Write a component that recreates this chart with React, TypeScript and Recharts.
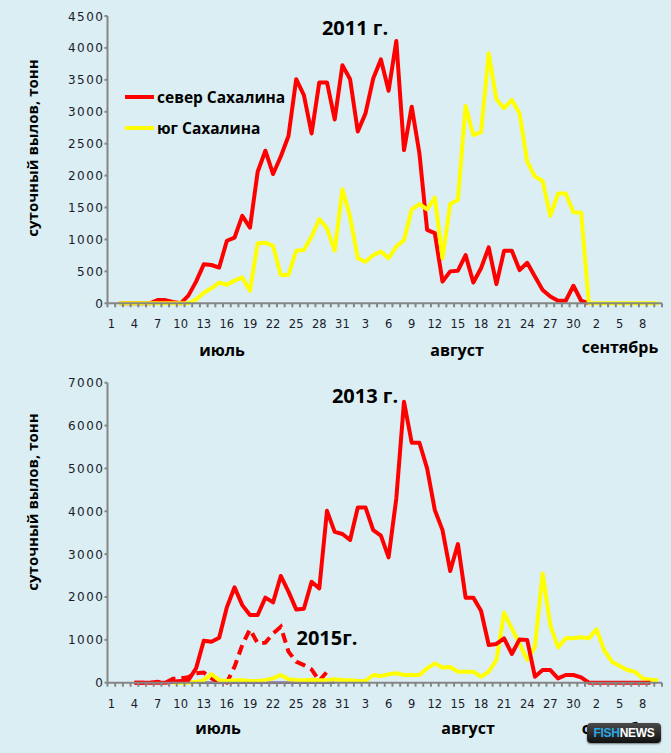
import { Line, LineChart, XAxis, YAxis } from 'recharts'

const BG = '#DAEEF3'
const RED = '#FF0000'
const YELLOW = '#FFFF00'
const PURPLE = '#7030A0'
const AXIS_GRAY = '#868686'
const TEXT_DARK = '#1b1b2b'
const BOLD_FONT = '"Open Sans", "Noto Sans", sans-serif'
const TICK_FONT = '"DejaVu Sans", sans-serif'

const CHART_W = 671
const PLOT_LEFT = 107.5
const PLOT_RIGHT = 662

// day-of-month labels: July 1..31, August 1..31, September 1..10
const DAY_LABELS = [
    1, 2, 3, 4, 5, 6, 7, 8, 9, 10, 11, 12, 13, 14, 15, 16, 17, 18, 19, 20, 21, 22, 23, 24, 25, 26, 27, 28, 29, 30, 31,
    1, 2, 3, 4, 5, 6, 7, 8, 9, 10, 11, 12, 13, 14, 15, 16, 17, 18, 19, 20, 21, 22, 23, 24, 25, 26, 27, 28, 29, 30, 31,
    1, 2, 3, 4, 5, 6, 7, 8, 9, 10
]

const TICKS_2011 = [0, 500, 1000, 1500, 2000, 2500, 3000, 3500, 4000, 4500]
const TICKS_2013 = [0, 1000, 2000, 3000, 4000, 5000, 6000, 7000]

// 2011, north Sakhalin (tonnes per day)
const NORTH_2011 = [
    null, 0, 0, 0, 0, 0, 50, 50, 20, 0, 120, 340, 610, 600, 560, 980, 1030, 1370, 1185, 2060, 2390, 2025, 2300, 2620,
    3510, 3260, 2660, 3460, 3460, 2880, 3730,
    3510, 2690, 2975, 3520, 3820, 3330, 4110, 2400, 3080, 2350, 1150, 1100, 340, 500, 510, 755, 325, 550, 875, 300,
    825, 825, 520, 635, 420, 210, 105, 40, 40, 275, 40,
    0, null, null, null, null, null, null, null, null, null
]

// 2011, south Sakhalin
const SOUTH_2011 = [
    null, 0, 0, 0, 0, 0, 0, 0, 0, 0, 0, 60, 165, 235, 325, 290, 355, 405, 195, 940, 950, 900, 445, 445, 825, 835, 1045,
    1320, 1175, 825, 1785,
    1355, 705, 650, 755, 810, 705, 890, 990, 1470, 1555, 1470, 1655, 705, 1555, 1620, 3090, 2635, 2680, 3915, 3195,
    3055, 3185, 2975, 2220, 1985, 1915, 1370, 1720, 1720, 1425, 1420,
    0, 0, 0, 0, 0, 0, 0, 0, 0, 0
]

// 2013, north Sakhalin
const NORTH_2013 = [
    null, null, null, 0, 0, 0, 0, 0, 20, 40, 60, 335, 980, 955, 1050, 1760, 2225, 1810, 1580, 1580, 1985, 1875, 2490,
    2125, 1710, 1725, 2355, 2200, 4010, 3520, 3470,
    3330, 4090, 4090, 3560, 3430, 2925, 4300, 6555, 5600, 5600, 5000, 4030, 3560, 2605, 3235, 1985, 1985, 1680, 880,
    905, 1035, 670, 1010, 995, 140, 295, 295, 100, 180, 180,
    125, 0, 0, 0, 0, 0, 0, 0, 0, 0
]

// 2013, south Sakhalin
const SOUTH_2013 = [
    null, null, null, null, null, null, null, null, 0, 0, 0, 20, 60, 200, 60, 40, 60, 60, 40, 40, 60, 100, 180, 80, 60,
    60, 70, 60, 60, 80, 60,
    60, 40, 40, 180, 155, 195, 220, 180, 180, 180, 335, 450, 355, 365, 255, 255, 255, 140, 255, 530, 1630, 1265, 910,
    530, 840, 2550, 1345, 825, 1035, 1035,
    1060, 1035, 1245, 755, 490, 390, 295, 255, 100, 70, 50
]

// 2015, north Sakhalin (dashed)
const NORTH_2015 = [
    null, null, null, 0, 0, 0, 20, 0, 90, 100, 130, 220, 235, 100, 10, 0, 375, 880, 1245, 920, 935, 1150, 1305, 725,
    490, 410, 310, 45, 255, null, null,
    null, null, null, null, null, null, null, null, null, null, null, null, null, null, null, null, null, null, null,
    null, null, null, null, null, null, null, null, null, null, null,
    null, null, null, null, null, null, null, null, null, null
]

// 2015, south Sakhalin (lies on the zero line)
const SOUTH_2015 = [
    null, null, null, 0, 0, 0, 0, 0, 0, 0, 0, 0, 0, 0, 0, 0, 0, 0, 0, 0, 0, 0, 0, 0, 0, 0, 0, 0, 0, 0, null,
    null, null, null, null, null, null, null, null, null, null, null, null, null, null, null, null, null, null, null,
    null, null, null, null, null, null, null, null, null, null, null,
    null, null, null, null, null, null, null, null, null, null
]

const rows2011 = DAY_LABELS.map((day, i) => ({ idx: i, day, north: NORTH_2011[i], south: SOUTH_2011[i] }))
const rows2013 = DAY_LABELS.map((day, i) => ({
    idx: i,
    day,
    north: NORTH_2013[i],
    south: SOUTH_2013[i],
    north2015: NORTH_2015[i],
    south2015: SOUTH_2015[i]
}))

const BAND = (PLOT_RIGHT - PLOT_LEFT) / DAY_LABELS.length

function DayTick(props: any) {
    const { x, y, index } = props
    const last = index === DAY_LABELS.length - 1
    return (
        <g>
            <line x1={x - BAND / 2} x2={x - BAND / 2} y1={y} y2={y + 4} stroke={AXIS_GRAY} strokeWidth={2} />
            {last ? <line x1={x + BAND / 2} x2={x + BAND / 2} y1={y} y2={y + 4} stroke={AXIS_GRAY} strokeWidth={2} /> : null}
            {index % 3 === 0 ? (
                <text x={x} y={y + 25} textAnchor="middle" fontFamily={TICK_FONT} fontSize={11.5} fill={TEXT_DARK}>
                    {DAY_LABELS[index]}
                </text>
            ) : null}
        </g>
    )
}

function ValueTick(props: any) {
    const { x, y, payload } = props
    return (
        <text x={x} y={y + 4.5} textAnchor="end" fontFamily={TICK_FONT} fontSize={12} letterSpacing={1.5} fill={TEXT_DARK}>
            {payload.value}
        </text>
    )
}

function Label({ x, y, size, children }: { x: number; y: number; size: number; children: any }) {
    return (
        <div
            style={{
                position: 'absolute',
                left: x,
                top: y,
                transform: 'translate(-50%, -50%)',
                whiteSpace: 'nowrap',
                fontFamily: BOLD_FONT,
                fontWeight: 700,
                fontSize: size,
                color: '#000'
            }}
        >
            {children}
        </div>
    )
}

function AxisTitle({ x, y }: { x: number; y: number }) {
    return (
        <div
            style={{
                position: 'absolute',
                left: x,
                top: y,
                transform: 'translate(-50%, -50%) rotate(-90deg)',
                whiteSpace: 'nowrap',
                fontFamily: BOLD_FONT,
                fontWeight: 700,
                fontSize: 15,
                color: '#000'
            }}
        >
            суточный вылов, тонн
        </div>
    )
}

function LegendRow({ top, color, text }: { top: number; color: string; text: string }) {
    return (
        <div style={{ position: 'absolute', left: 125, top, display: 'flex', alignItems: 'center' }}>
            <div style={{ width: 29, height: 4, background: color }} />
            <span style={{ marginLeft: 3, fontFamily: BOLD_FONT, fontWeight: 700, fontSize: 15.5, color: '#000' }}>{text}</span>
        </div>
    )
}

export default function App() {
    return (
        <div style={{ position: 'absolute', left: 0, top: 0, width: 671, height: 753, background: BG, overflow: 'hidden' }}>
            <div style={{ position: 'absolute', left: 0, top: 0 }}>
                <LineChart width={CHART_W} height={370} data={rows2011} margin={{ top: 16, right: CHART_W - PLOT_RIGHT, bottom: 0, left: 0 }}>
                    <XAxis
                        dataKey="idx"
                        type="category"
                        interval={0}
                        height={66.7}
                        padding={{ left: BAND / 2, right: BAND / 2 }}
                        tickSize={0}
                        tickMargin={0}
                        tick={DayTick}
                        tickLine={false}
                        axisLine={{ stroke: AXIS_GRAY, strokeWidth: 2 }}
                    />
                    <YAxis
                        width={PLOT_LEFT}
                        domain={[0, 4500]}
                        ticks={TICKS_2011}
                        interval={0}
                        tickSize={3}
                        tickMargin={0}
                        tick={ValueTick}
                        tickLine={{ stroke: AXIS_GRAY, strokeWidth: 2 }}
                        axisLine={{ stroke: AXIS_GRAY, strokeWidth: 2 }}
                    />
                    <Line dataKey="north" type="linear" stroke={RED} strokeWidth={4} dot={false} isAnimationActive={false} strokeLinejoin="round" />
                    <Line dataKey="south" type="linear" stroke={YELLOW} strokeWidth={4} dot={false} isAnimationActive={false} strokeLinejoin="round" />
                </LineChart>
            </div>

            <div style={{ position: 'absolute', left: 0, top: 370 }}>
                <LineChart width={CHART_W} height={383} data={rows2013} margin={{ top: 12.7, right: CHART_W - PLOT_RIGHT, bottom: 0, left: 0 }}>
                    <XAxis
                        dataKey="idx"
                        type="category"
                        interval={0}
                        height={70.3}
                        padding={{ left: BAND / 2, right: BAND / 2 }}
                        tickSize={0}
                        tickMargin={0}
                        tick={DayTick}
                        tickLine={false}
                        axisLine={{ stroke: AXIS_GRAY, strokeWidth: 2 }}
                    />
                    <YAxis
                        width={PLOT_LEFT}
                        domain={[0, 7000]}
                        ticks={TICKS_2013}
                        interval={0}
                        tickSize={3}
                        tickMargin={0}
                        tick={ValueTick}
                        tickLine={{ stroke: AXIS_GRAY, strokeWidth: 2 }}
                        axisLine={{ stroke: AXIS_GRAY, strokeWidth: 2 }}
                    />
                    <Line dataKey="south2015" type="linear" stroke={PURPLE} strokeWidth={2.5} dot={false} isAnimationActive={false} />
                    <Line dataKey="north2015" type="linear" stroke={RED} strokeWidth={4} strokeDasharray="10 6" dot={false} isAnimationActive={false} />
                    <Line dataKey="south" type="linear" stroke={YELLOW} strokeWidth={4} dot={false} isAnimationActive={false} strokeLinejoin="round" />
                    <Line dataKey="north" type="linear" stroke={RED} strokeWidth={4} dot={false} isAnimationActive={false} strokeLinejoin="round" />
                </LineChart>
            </div>

            <AxisTitle x={32} y={148} />
            <AxisTitle x={32} y={502} />

            <Label x={355} y={27} size={20}>2011 г.</Label>
            <Label x={365} y={395} size={20}>2013 г.</Label>
            <Label x={327} y={637} size={20}>2015г.</Label>

            <LegendRow top={86} color={RED} text="север Сахалина" />
            <LegendRow top={117} color={YELLOW} text="юг Сахалина" />

            <Label x={222} y={350} size={16}>июль</Label>
            <Label x={457} y={350} size={16}>август</Label>
            <Label x={620} y={347} size={16}>сентябрь</Label>
            <Label x={218} y={728} size={16}>июль</Label>
            <Label x={468} y={728} size={16}>август</Label>
            <Label x={620} y={728} size={16}>сентябрь</Label>

            <div
                style={{
                    position: 'absolute',
                    left: 587,
                    top: 723,
                    width: 74,
                    height: 20,
                    borderRadius: 4,
                    background: 'linear-gradient(#4a4a4a, #101010)',
                    boxShadow: '0 1px 2px rgba(0,0,0,0.5)',
                    display: 'flex',
                    alignItems: 'center',
                    justifyContent: 'center',
                    fontFamily: '"Liberation Sans", Arial, sans-serif',
                    fontWeight: 700,
                    fontSize: 12,
                    letterSpacing: -0.3
                }}
            >
                <span style={{ color: '#2AA8E2' }}>FISH</span>
                <span style={{ color: '#FFFFFF' }}>NEWS</span>
            </div>
        </div>
    )
}
